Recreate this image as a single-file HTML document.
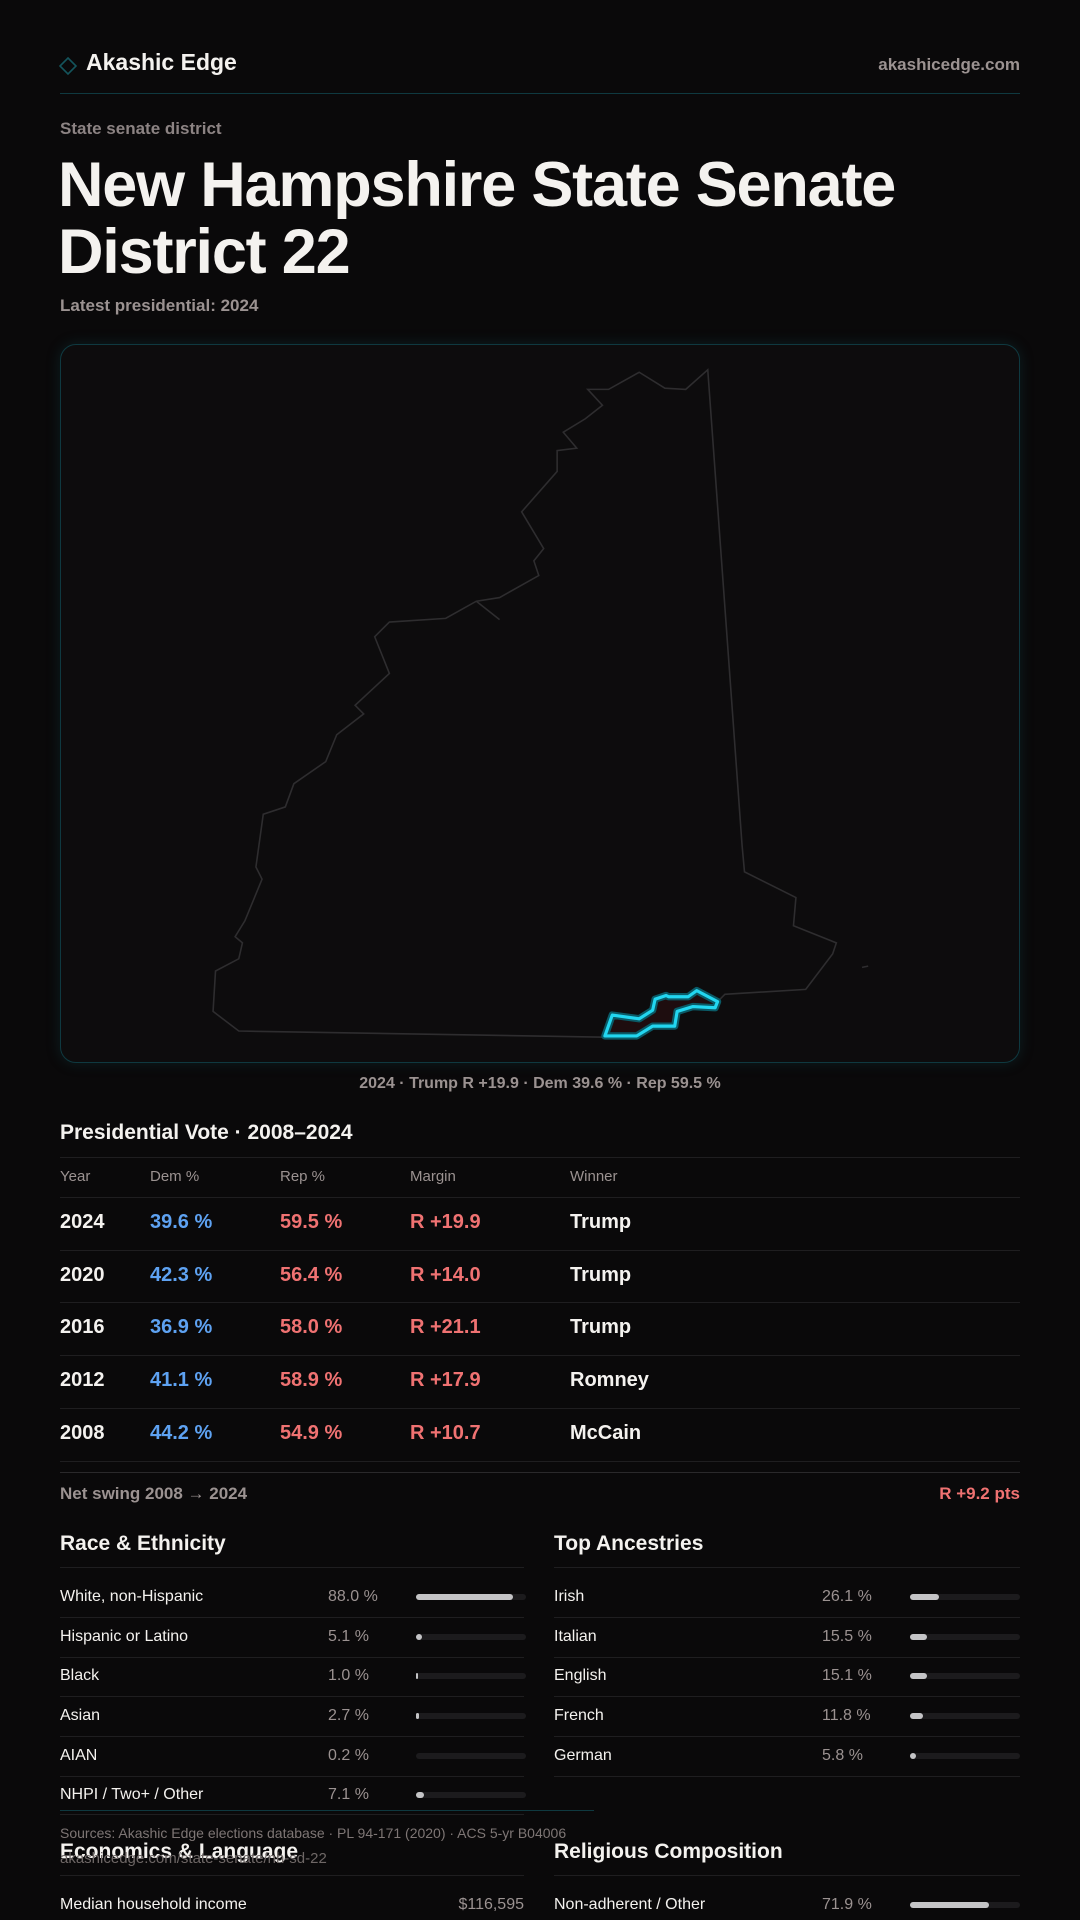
<!DOCTYPE html>
<html><head><meta charset="utf-8"><style>
*{margin:0;padding:0;box-sizing:border-box}
body{width:1080px;height:1920px;background:#0a090a;font-family:"Liberation Sans",sans-serif;position:relative;overflow:hidden;color:#f4f2ef}
.a{position:absolute;white-space:nowrap;line-height:1}
.g{color:#9b9291}
.hl{position:absolute;height:1px;background:#1f1e20}
.b{font-weight:bold}
.bar{position:absolute;height:6px;border-radius:3px;background:#1c1b1d;width:110px}
.bar i{display:block;height:6px;border-radius:3px;background:#c4c4c6}
</style></head><body>
<svg class="a" style="left:58px;top:56px" width="20" height="20" viewBox="0 0 20 20"><path d="M10 2 L18 10 L10 18 L2 10 Z" fill="none" stroke="#14545c" stroke-width="1.6"/></svg>
<div class="a b" style="left:86px;top:51px;font-size:23px">Akashic Edge</div>
<div class="a g b" style="right:60px;top:56px;font-size:17px">akashicedge.com</div>
<div class="hl" style="left:60px;width:960px;top:93px;background:#0f3940"></div>
<div class="a g b" style="left:60px;top:120px;font-size:17px;color:#8c8383">State senate district</div>
<div class="a b" style="left:58px;top:152px;font-size:63px;letter-spacing:-1.2px;line-height:67px">New Hampshire State Senate<br>District 22</div>
<div class="a g b" style="left:60px;top:297px;font-size:17px">Latest presidential: 2024</div>
<div class="a" style="left:60px;top:344px;width:960px;height:719px;border:1px solid #0f3940;border-radius:16px;background:#0d0c0d;box-shadow:0 0 14px rgba(20,90,100,0.25)"></div>
<svg class="a" style="left:0;top:0" width="1080" height="1920" viewBox="0 0 882 1568">
<polyline fill="none" stroke="#2e2d2f" stroke-width="1.3" points="494,847 195,842 174,826 176,793 195,783 198,770 192,765 200,752 214,718 209,708 215,665 233,659 240,640 266,622 275,600 297,583 290,576 318,550 306,520 318,508 364,505 389,491 408,488 440,470 436,458 444,448 426,418 455,385 455,368 471,366 460,353 478,342 492,331 480,318 497,318 522,304 543,317 560,318 578,302 606,690 608,712 650,733 648,756 683,770 680,779 658,808 592,812 586,818"/>
<line x1="389" y1="491" x2="408" y2="506" stroke="#2e2d2f" stroke-width="1.3"/>
<line x1="704" y1="790" x2="709" y2="789" stroke="#2e2d2f" stroke-width="1.3"/>
<polygon points="494,846 500,829 522,832 533,825 535,816 544,813 546,814 562,814 569,809 586,818 584,823 566,822 553,826 551,838 533,838 520,846" fill="#1e0d0f" stroke="#0a5a66" stroke-width="6" stroke-linejoin="round"/>
<polygon points="494,846 500,829 522,832 533,825 535,816 544,813 546,814 562,814 569,809 586,818 584,823 566,822 553,826 551,838 533,838 520,846" fill="none" stroke="#22d6f0" stroke-width="2.6" stroke-linejoin="round"/>
</svg>
<div class="a g b" style="left:0;width:1080px;text-align:center;top:1076px;font-size:16px">2024 · Trump R +19.9 · Dem 39.6 % · Rep 59.5 %</div>
<div class="a b" style="left:60px;top:1122px;font-size:21px">Presidential Vote · 2008–2024</div>
<div class="hl" style="left:60px;width:960px;top:1157px"></div>
<div class="a g" style="left:60px;top:1169px;font-size:15px">Year</div>
<div class="a g" style="left:150px;top:1169px;font-size:15px">Dem %</div>
<div class="a g" style="left:280px;top:1169px;font-size:15px">Rep %</div>
<div class="a g" style="left:410px;top:1169px;font-size:15px">Margin</div>
<div class="a g" style="left:570px;top:1169px;font-size:15px">Winner</div>
<div class="hl" style="left:60px;width:960px;top:1197px"></div>

<div class="a b" style="left:60px;top:1212px;font-size:20px">2024</div><div class="a b" style="left:150px;top:1212px;font-size:20px;color:#5ea2f2">39.6 %</div><div class="a b" style="left:280px;top:1212px;font-size:20px;color:#f07272">59.5 %</div><div class="a b" style="left:410px;top:1212px;font-size:20px;color:#f07272">R +19.9</div><div class="a b" style="left:570px;top:1212px;font-size:20px">Trump</div>
<div class="hl" style="left:60px;width:960px;top:1250px"></div>
<div class="a b" style="left:60px;top:1265px;font-size:20px">2020</div><div class="a b" style="left:150px;top:1265px;font-size:20px;color:#5ea2f2">42.3 %</div><div class="a b" style="left:280px;top:1265px;font-size:20px;color:#f07272">56.4 %</div><div class="a b" style="left:410px;top:1265px;font-size:20px;color:#f07272">R +14.0</div><div class="a b" style="left:570px;top:1265px;font-size:20px">Trump</div>
<div class="hl" style="left:60px;width:960px;top:1302px"></div>
<div class="a b" style="left:60px;top:1317px;font-size:20px">2016</div><div class="a b" style="left:150px;top:1317px;font-size:20px;color:#5ea2f2">36.9 %</div><div class="a b" style="left:280px;top:1317px;font-size:20px;color:#f07272">58.0 %</div><div class="a b" style="left:410px;top:1317px;font-size:20px;color:#f07272">R +21.1</div><div class="a b" style="left:570px;top:1317px;font-size:20px">Trump</div>
<div class="hl" style="left:60px;width:960px;top:1355px"></div>
<div class="a b" style="left:60px;top:1370px;font-size:20px">2012</div><div class="a b" style="left:150px;top:1370px;font-size:20px;color:#5ea2f2">41.1 %</div><div class="a b" style="left:280px;top:1370px;font-size:20px;color:#f07272">58.9 %</div><div class="a b" style="left:410px;top:1370px;font-size:20px;color:#f07272">R +17.9</div><div class="a b" style="left:570px;top:1370px;font-size:20px">Romney</div>
<div class="hl" style="left:60px;width:960px;top:1408px"></div>
<div class="a b" style="left:60px;top:1423px;font-size:20px">2008</div><div class="a b" style="left:150px;top:1423px;font-size:20px;color:#5ea2f2">44.2 %</div><div class="a b" style="left:280px;top:1423px;font-size:20px;color:#f07272">54.9 %</div><div class="a b" style="left:410px;top:1423px;font-size:20px;color:#f07272">R +10.7</div><div class="a b" style="left:570px;top:1423px;font-size:20px">McCain</div>
<div class="hl" style="left:60px;width:960px;top:1461px"></div>
<div class="hl" style="left:60px;width:960px;top:1472px;background:#2a292b"></div>
<div class="a g b" style="left:60px;top:1485px;font-size:17px">Net swing 2008 → 2024</div>
<div class="a b" style="right:60px;top:1485px;font-size:17px;color:#f07272">R +9.2 pts</div>

<div class="a b" style="left:60px;top:1533px;font-size:21px">Race &amp; Ethnicity</div>
<div class="a b" style="left:554px;top:1533px;font-size:21px">Top Ancestries</div>
<div class="hl" style="left:60px;width:464px;top:1567px"></div>
<div class="hl" style="left:554px;width:466px;top:1567px"></div>

<div class="a" style="left:60px;top:1589px;font-size:16px">White, non-Hispanic</div><div class="a g" style="left:328px;top:1589px;font-size:16px">88.0 %</div><div class="bar" style="left:416px;top:1594px"><i style="width:88%"></i></div>
<div class="hl" style="left:60px;width:464px;top:1617px"></div>
<div class="a" style="left:60px;top:1629px;font-size:16px">Hispanic or Latino</div><div class="a g" style="left:328px;top:1629px;font-size:16px">5.1 %</div><div class="bar" style="left:416px;top:1634px"><i style="width:5.1%"></i></div>
<div class="hl" style="left:60px;width:464px;top:1657px"></div>
<div class="a" style="left:60px;top:1668px;font-size:16px">Black</div><div class="a g" style="left:328px;top:1668px;font-size:16px">1.0 %</div><div class="bar" style="left:416px;top:1673px"><i style="width:1.5%"></i></div>
<div class="hl" style="left:60px;width:464px;top:1696px"></div>
<div class="a" style="left:60px;top:1708px;font-size:16px">Asian</div><div class="a g" style="left:328px;top:1708px;font-size:16px">2.7 %</div><div class="bar" style="left:416px;top:1713px"><i style="width:2.7%"></i></div>
<div class="hl" style="left:60px;width:464px;top:1736px"></div>
<div class="a" style="left:60px;top:1748px;font-size:16px">AIAN</div><div class="a g" style="left:328px;top:1748px;font-size:16px">0.2 %</div><div class="bar" style="left:416px;top:1753px"></div>
<div class="hl" style="left:60px;width:464px;top:1776px"></div>
<div class="a" style="left:60px;top:1787px;font-size:16px">NHPI / Two+ / Other</div><div class="a g" style="left:328px;top:1787px;font-size:16px">7.1 %</div><div class="bar" style="left:416px;top:1792px"><i style="width:7.1%"></i></div>

<div class="a" style="left:554px;top:1589px;font-size:16px">Irish</div><div class="a g" style="left:822px;top:1589px;font-size:16px">26.1 %</div><div class="bar" style="left:910px;top:1594px"><i style="width:26.1%"></i></div>
<div class="hl" style="left:554px;width:466px;top:1617px"></div>
<div class="a" style="left:554px;top:1629px;font-size:16px">Italian</div><div class="a g" style="left:822px;top:1629px;font-size:16px">15.5 %</div><div class="bar" style="left:910px;top:1634px"><i style="width:15.5%"></i></div>
<div class="hl" style="left:554px;width:466px;top:1657px"></div>
<div class="a" style="left:554px;top:1668px;font-size:16px">English</div><div class="a g" style="left:822px;top:1668px;font-size:16px">15.1 %</div><div class="bar" style="left:910px;top:1673px"><i style="width:15.1%"></i></div>
<div class="hl" style="left:554px;width:466px;top:1696px"></div>
<div class="a" style="left:554px;top:1708px;font-size:16px">French</div><div class="a g" style="left:822px;top:1708px;font-size:16px">11.8 %</div><div class="bar" style="left:910px;top:1713px"><i style="width:11.8%"></i></div>
<div class="hl" style="left:554px;width:466px;top:1736px"></div>
<div class="a" style="left:554px;top:1748px;font-size:16px">German</div><div class="a g" style="left:822px;top:1748px;font-size:16px">5.8 %</div><div class="bar" style="left:910px;top:1753px"><i style="width:5.8%"></i></div>
<div class="hl" style="left:554px;width:466px;top:1776px"></div>

<div class="hl" style="left:60px;width:534px;top:1810px;background:#0f3940"></div>
<div class="hl" style="left:60px;width:464px;top:1814px"></div>
<div class="a g" style="left:60px;top:1826px;font-size:14px;color:#7e7675">Sources: Akashic Edge elections database · PL 94-171 (2020) · ACS 5-yr B04006</div>
<div class="a b" style="left:60px;top:1841px;font-size:21px">Economics &amp; Language</div>
<div class="a g" style="left:60px;top:1851px;font-size:15px;color:#6e6766">akashicedge.com/state-senate/nh-sd-22</div>
<div class="a b" style="left:554px;top:1841px;font-size:21px">Religious Composition</div>
<div class="hl" style="left:60px;width:464px;top:1875px"></div>
<div class="hl" style="left:554px;width:466px;top:1875px"></div>
<div class="a" style="left:60px;top:1897px;font-size:16px">Median household income</div>
<div class="a g" style="left:324px;width:200px;text-align:right;top:1897px;font-size:16px">$116,595</div>
<div class="a" style="left:554px;top:1897px;font-size:16px">Non-adherent / Other</div><div class="a g" style="left:822px;top:1897px;font-size:16px">71.9 %</div><div class="bar" style="left:910px;top:1902px"><i style="width:71.9%"></i></div>
</body></html>
